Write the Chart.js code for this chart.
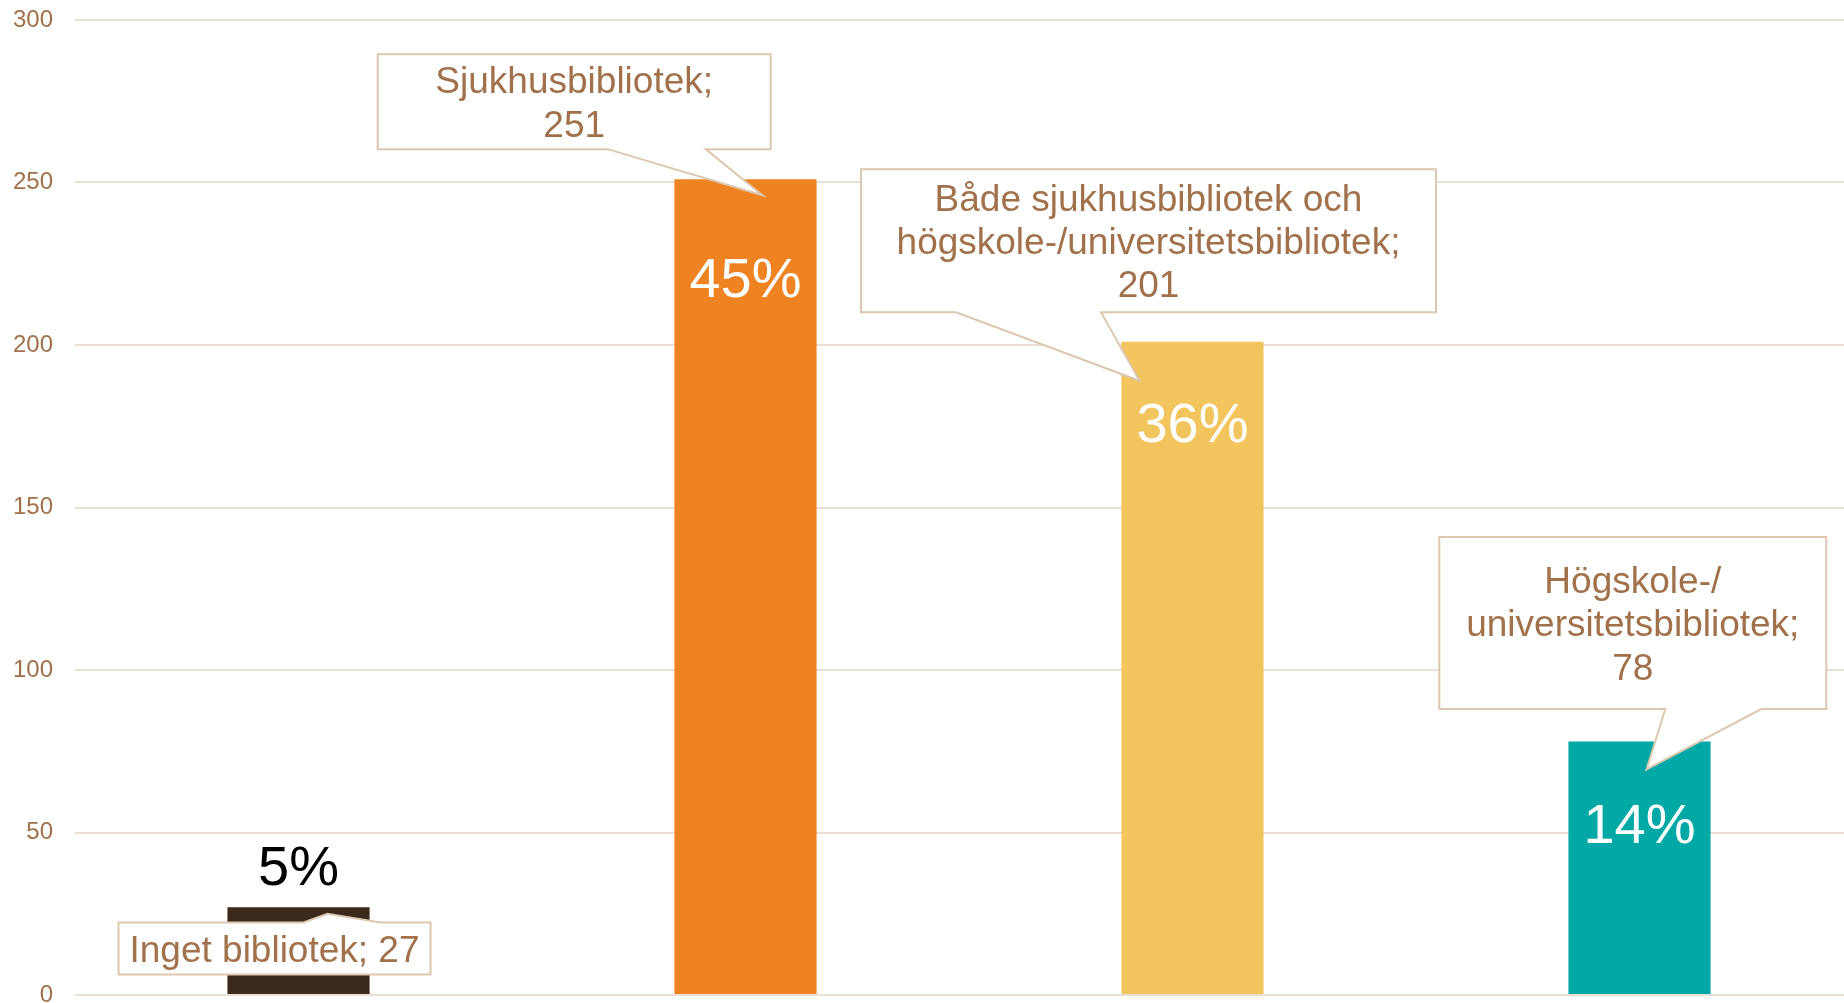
<!DOCTYPE html>
<html lang="sv">
<head>
<meta charset="utf-8">
<title>Tillgång till bibliotek</title>
<script src="https://cdn.jsdelivr.net/npm/chart.js@4.4.1/dist/chart.umd.min.js"></script>
<style>
  html, body { margin: 0; padding: 0; background: #fff; overflow: hidden; }
  #wrap { position: relative; width: 1864px; height: 1003px; }
</style>
</head>
<body>
<div id="wrap"><canvas id="bibChart"></canvas></div>
<script>
(function () {
  'use strict';

  const categories = [
    'Inget bibliotek',
    'Sjukhusbibliotek',
    'Både sjukhusbibliotek och högskole-/universitetsbibliotek',
    'Högskole-/universitetsbibliotek',
  ];
  // radbrytningar för pratbubblorna
  const categoryLines = [
    ['Inget bibliotek'],
    ['Sjukhusbibliotek'],
    ['Både sjukhusbibliotek och', 'högskole-/universitetsbibliotek'],
    ['Högskole-/', 'universitetsbibliotek'],
  ];
  const counts = [27, 251, 201, 78];
  const yTicks = [0, 50, 100, 150, 200, 250, 300];

  const barColors = ['#3B2A1C', '#EF8322', '#F2C55E', '#00A9A6'];
  const brown = '#A0714A';
  const boxBorder = '#DCC8B0';
  const gridColor = '#EADFD3';
  const fontFamily = '"Liberation Sans", Arial, sans-serif';

  // bubblor relativt stapelns topp (mitt)
  const callouts = [
    { dx: -24, dy: 41.3, w: 312, h: 52, edge: 'top', base: [185, 262], tip: [29, 6.5], inline: true },
    { dx: -171.3, dy: -77.6, w: 393, h: 95, edge: 'bottom', base: [230, 328], tip: [17, 16] },
    { dx: -44, dy: -101, w: 575, h: 143, edge: 'bottom', base: [95, 240], tip: [-53, 39] },
    { dx: -6.7, dy: -118.5, w: 387, h: 172, edge: 'bottom', base: [226, 322], tip: [7, 28] },
  ];
  const pctOffset = [-42, 98, 80, 81.5];
  const pctColors = ['#000000', '#ffffff', '#ffffff', '#ffffff'];

  const total = counts.reduce((a, b) => a + b, 0);

  function drawCallout(ctx, bar, c, lines) {
    const cx = bar.x + c.dx;
    const cy = bar.y + c.dy;
    const L = cx - c.w / 2, R = cx + c.w / 2;
    const T = cy - c.h / 2, B = cy + c.h / 2;
    const tx = bar.x + c.tip[0], ty = bar.y + c.tip[1];

    ctx.save();
    ctx.beginPath();
    if (c.edge === 'top') {
      ctx.moveTo(L, T);
      ctx.lineTo(L + c.base[0], T);
      ctx.lineTo(tx, ty);
      ctx.lineTo(L + c.base[1], T);
      ctx.lineTo(R, T);
      ctx.lineTo(R, B);
      ctx.lineTo(L, B);
    } else {
      ctx.moveTo(L, T);
      ctx.lineTo(R, T);
      ctx.lineTo(R, B);
      ctx.lineTo(L + c.base[1], B);
      ctx.lineTo(tx, ty);
      ctx.lineTo(L + c.base[0], B);
      ctx.lineTo(L, B);
    }
    ctx.closePath();
    ctx.fillStyle = '#ffffff';
    ctx.fill();
    ctx.lineWidth = 2;
    ctx.lineJoin = 'miter';
    ctx.strokeStyle = boxBorder;
    ctx.stroke();

    const fs = 37;
    const lh = 43.4;
    ctx.font = fs + 'px ' + fontFamily;
    ctx.fillStyle = brown;
    ctx.textAlign = 'center';
    ctx.textBaseline = 'alphabetic';
    lines.forEach((line, i) => {
      const y = cy + (i - (lines.length - 1) / 2) * lh + 0.358 * fs;
      ctx.fillText(line, cx, y);
    });
    ctx.restore();
  }

  const labelPlugin = {
    id: 'bubbleLabels',
    afterDatasetsDraw(chart) {
      const ctx = chart.ctx;
      const meta = chart.getDatasetMeta(0);
      meta.data.forEach((bar, i) => {
        const c = callouts[i];
        const lines = categoryLines[i].slice();
        const last = lines.length - 1;
        if (c.inline) {
          lines[last] = lines[last] + '; ' + counts[i];
        } else {
          lines[last] = lines[last] + ';';
          lines.push(String(counts[i]));
        }
        drawCallout(ctx, bar, c, lines);

        const pct = Math.round((counts[i] / total) * 100) + '%';
        const fs = 56;
        ctx.save();
        ctx.font = fs + 'px ' + fontFamily;
        ctx.fillStyle = pctColors[i];
        ctx.textAlign = 'center';
        ctx.textBaseline = 'alphabetic';
        ctx.fillText(pct, bar.x, bar.y + pctOffset[i] + 0.358 * fs);
        ctx.restore();
      });
    },
  };

  Chart.defaults.font.family = fontFamily;

  new Chart(document.getElementById('bibChart'), {
    type: 'bar',
    data: {
      labels: categories,
      datasets: [{
        data: counts,
        backgroundColor: barColors,
        borderWidth: 0,
        barPercentage: 0.318,
        categoryPercentage: 1,
      }],
    },
    options: {
      responsive: true,
      maintainAspectRatio: false,
      animation: false,
      layout: { padding: { top: 20, bottom: 8, left: 0, right: 1 } },
      plugins: { legend: { display: false }, tooltip: { enabled: false } },
      scales: {
        x: { display: false },
        y: {
          min: 0,
          max: 300,
          afterBuildTicks: (scale) => { scale.ticks = yTicks.map((v) => ({ value: v })); },
          afterFit: (scale) => {
            scale.width = 75;
            scale.paddingTop = 0;
            scale.paddingBottom = 0;
          },
          border: { display: false },
          grid: { color: gridColor, lineWidth: 2, drawTicks: false },
          ticks: { color: brown, padding: 22, font: { size: 24 } },
        },
      },
    },
    plugins: [labelPlugin],
  });
})();
</script>
</body>
</html>
